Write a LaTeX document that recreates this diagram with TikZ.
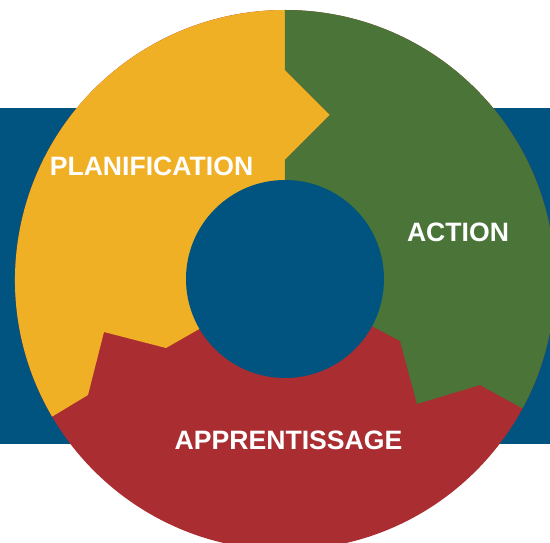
\documentclass[tikz,border=0pt]{standalone}
\usepackage{fontspec}
\setmainfont{Liberation Sans}
\definecolor{bandblue}{HTML}{00547F}
\definecolor{planyellow}{HTML}{F0B026}
\definecolor{actgreen}{HTML}{4A7438}
\definecolor{apred}{HTML}{A92D31}
\tikzset{
  label text/.style={text=white, font=\bfseries\fontsize{26.6}{26.6}\selectfont, inner sep=0pt},
}
\begin{document}
\begin{tikzpicture}[x=1pt,y=1pt]
\useasboundingbox (-285,-263) rectangle (265,280);
\clip (-285,-263) rectangle (265,280);
% blue band
\fill[bandblue] (-285,-164) rectangle (265,172);
% outer circle base (red)
\fill[apred] (0,0) circle[radius=270];
% yellow sector
\fill[planyellow] (0,0) -- (-119,-68) -- (-181,-52) -- (-197,-115) -- (210.4:270)
  arc[start angle=210.4, end angle=90, radius=270] -- (0,210) -- (45,165) -- (0,120) -- cycle;
% green sector
\fill[actgreen] (0,0) -- (0,120) -- (45,165) -- (0,210) -- (0,270)
  arc[start angle=90, end angle=-28.4, radius=270] -- (195,-105) -- (132,-124) -- (115,-61) -- cycle;
% inner circle
\fill[bandblue] (0,1) circle[radius=99];
% labels
\node[label text] (plan) at (-133.5,114) {PLANIFICATION};
\node[label text] (act) at (173,48) {ACTION};
\node[label text] (app) at (3.5,-160) {APPRENTISSAGE};
\end{tikzpicture}
\end{document}
